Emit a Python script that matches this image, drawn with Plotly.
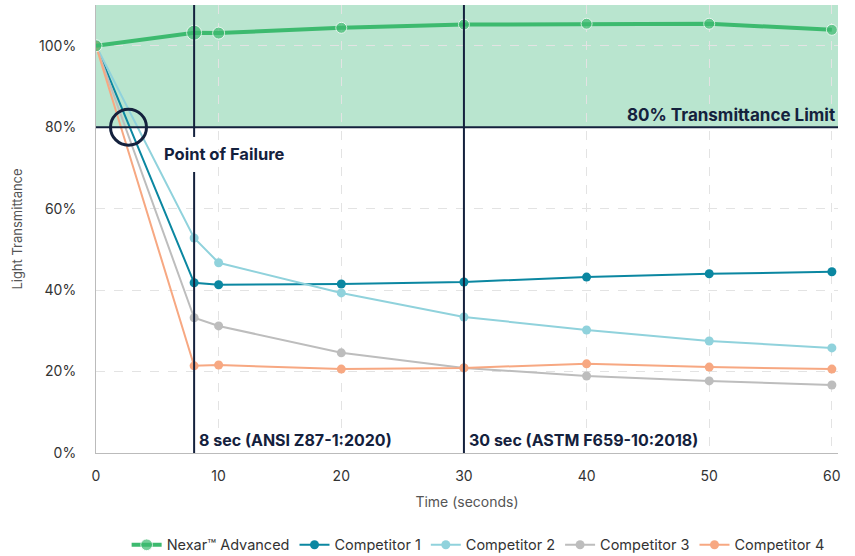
import plotly.graph_objects as go

time_s = [0, 8, 10, 20, 30, 40, 50, 60]
nexar = [100, 103.2, 103.1, 104.4, 105.2, 105.4, 105.4, 103.9]
comp1 = [100, 41.8, 41.3, 41.5, 42.0, 43.2, 44.0, 44.5]
comp2 = [100, 52.8, 46.7, 39.3, 33.4, 30.2, 27.5, 25.8]
comp3 = [100, 33.2, 31.2, 24.6, 20.9, 18.9, 17.7, 16.7]
comp4 = [100, 21.4, 21.6, 20.6, 20.9, 21.9, 21.1, 20.6]
series_names = ["Nexar™ Advanced", "Competitor 1", "Competitor 2", "Competitor 3", "Competitor 4"]
y_ticks = [0, 20, 40, 60, 80, 100]
y_tick_labels = ["0%", "20%", "40%", "60%", "80%", "100%"]
x_ticks = [0, 10, 20, 30, 40, 50, 60]
limit = 80
std_times = [8, 30]
std_labels = ["8 sec (ANSI Z87-1:2020)", "30 sec (ASTM F659-10:2018)"]
failure_x = 2.65
failure_label_y = 73.3

NAVY = "#14213d"
colors = ["#3dba6f", "#0b87a1", "#90d2dc", "#bdbdbd", "#f7a882"]
FONT = "Inter"
Y_TOP = 110
X_MAX = 60.5

fig = go.Figure()
all_series = [nexar, comp1, comp2, comp3, comp4]

traces = []
for i, (name, vals) in enumerate(zip(series_names, all_series)):
    if i == 0:
        tr = go.Scatter(x=time_s, y=vals, name=name, mode="lines+markers",
                        line=dict(color=colors[i], width=4),
                        marker=dict(color=colors[i], size=[12, 15, 12, 11, 11, 11, 11, 11]),
                        legendrank=1)
    else:
        tr = go.Scatter(x=time_s, y=vals, name=name, mode="lines+markers",
                        line=dict(color=colors[i], width=2),
                        marker=dict(color=colors[i], size=9),
                        legendrank=i + 1)
    traces.append(tr)
for tr in traces[1:]:
    fig.add_trace(tr)
fig.add_trace(traces[0])

# green acceptable zone
fig.add_shape(type="rect", xref="x", yref="y", x0=0, x1=X_MAX, y0=limit, y1=Y_TOP,
              fillcolor="#b9e5cf", line_width=0, layer="below")
fig.add_shape(type="line", xref="x", yref="y", x0=0, x1=X_MAX, y0=limit, y1=limit,
              line=dict(color=NAVY, width=2), layer="above")

# standard reference lines (8 s line is interrupted by the failure label)
gap = 4.3
for t in std_times:
    if t == std_times[0]:
        fig.add_shape(type="line", xref="x", yref="y", x0=t, x1=t, y0=0, y1=failure_label_y - gap,
                      line=dict(color=NAVY, width=2), layer="above")
        fig.add_shape(type="line", xref="x", yref="y", x0=t, x1=t, y0=failure_label_y + gap, y1=Y_TOP,
                      line=dict(color=NAVY, width=2), layer="above")
    else:
        fig.add_shape(type="line", xref="x", yref="y", x0=t, x1=t, y0=0, y1=Y_TOP,
                      line=dict(color=NAVY, width=2), layer="above")

fig.add_shape(type="circle", xref="x", yref="y", xsizemode="pixel", ysizemode="pixel",
              xanchor=failure_x, yanchor=limit, x0=-18, x1=18, y0=-18, y1=18,
              line=dict(color=NAVY, width=3), layer="above")

fig.add_annotation(x=X_MAX, y=limit, xref="x", yref="y", text="<b>80% Transmittance Limit</b>",
                   showarrow=False, xanchor="right", yanchor="bottom", xshift=-1, yshift=0,
                   font=dict(family=FONT, size=17, color=NAVY))
fig.add_annotation(x=5.4, y=failure_label_y, xref="x", yref="y", text="<b>Point of Failure</b>",
                   showarrow=False, xanchor="left", yanchor="middle",
                   font=dict(family=FONT, size=16.5, color=NAVY))
for t, lab in zip(std_times, std_labels):
    fig.add_annotation(x=t, y=0, xref="x", yref="y", text="<b>" + lab + "</b>",
                       showarrow=False, xanchor="left", yanchor="bottom", xshift=3, yshift=1,
                       font=dict(family=FONT, size=16, color=NAVY))

fig.update_layout(
    width=855, height=556,
    margin=dict(l=96, r=17, t=5, b=103, autoexpand=False),
    plot_bgcolor="white", paper_bgcolor="white",
    font=dict(family=FONT, size=14, color="#333"),
    showlegend=True,
    legend=dict(orientation="h", x=0.515, xanchor="center", y=-0.205, yanchor="middle",
                font=dict(family=FONT, size=14.5, color="#333"), itemwidth=30,
                traceorder="normal"),
    xaxis=dict(range=[0, X_MAX], tickvals=x_ticks, showgrid=True, gridcolor="#e3e3e3",
               griddash="dash", zeroline=False, showline=True, linecolor="#bbbbbb",
               ticks="", ticklabelstandoff=10, tickfont=dict(size=14, color="#333"),
               title=dict(text="Time (seconds)", font=dict(size=14, color="#555"), standoff=14)),
    yaxis=dict(range=[0, Y_TOP], tickvals=y_ticks, ticktext=y_tick_labels, showgrid=True,
               gridcolor="#e3e3e3", griddash="dash", zeroline=False, showline=True,
               linecolor="#bbbbbb", ticks="", ticklabelstandoff=16, tickfont=dict(size=14, color="#333"),
               title=dict(text="Light Transmittance", font=dict(size=13, color="#555"), standoff=13)),
)

fig.write_html("out.html", config={"displayModeBar": False},
               post_script="document.body.style.margin='0';")
